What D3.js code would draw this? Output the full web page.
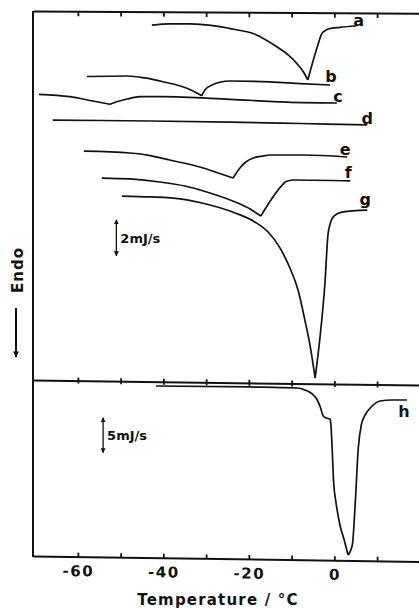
<!DOCTYPE html>
<html>
<head>
<meta charset="utf-8">
<script src="https://cdn.jsdelivr.net/npm/d3@7"></script>
<style>
    body { margin: 0; background: #fff; }
    text { font-family: "DejaVu Sans", sans-serif; fill: #111; font-weight: bold; }
    .axis path, .axis line { stroke: #111; }
</style>
</head>
<body>
<svg id="chart" width="419" height="609"></svg>
<script>

// DSC traces, [temperature in degC, heat flow in mJ/s with an arbitrary offset]
var curveA = [[-42.7, 19.72], [-38.5, 19.78], [-33.8, 19.79], [-26.8, 19.63], [-23.2, 19.47], [-19.0, 19.25],
    [-16.2, 18.92], [-13.2, 18.47], [-10.8, 18.06], [-8.7, 17.56], [-7.3, 17.14], [-6.2, 16.67],
    [-4.1, 18.43], [-2.9, 19.26], [-2.1, 19.42], [-1.4, 19.5], [1.3, 19.59], [5.2, 19.68]];
var curveB = [[-57.9, 16.86], [-48.5, 16.89], [-44.3, 16.78], [-40.1, 16.57], [-34.5, 16.21], [-32.6, 16.0],
    [-31.0, 15.79], [-30.3, 16.11], [-28.6, 16.39], [-26.8, 16.54], [-24.4, 16.61], [-15.0, 16.56],
    [-8.0, 16.47], [-1.0, 16.39]];
var curveC = [[-69.1, 15.87], [-61.9, 15.74], [-56.5, 15.5], [-52.5, 15.32], [-50.9, 15.46], [-48.5, 15.61],
    [-45.5, 15.74], [-40.1, 15.74], [-24.4, 15.59], [-11.1, 15.44], [0.6, 15.39]];
var curveD = [[-65.9, 14.44], [-43.1, 14.39], [-24.4, 14.33], [-8.0, 14.25], [7.7, 14.17]];
var curveE = [[-58.6, 12.72], [-47.8, 12.61], [-43.1, 12.47], [-38.5, 12.22], [-30.7, 11.78], [-27.2, 11.5],
    [-23.7, 11.22], [-22.1, 11.78], [-20.7, 12.11], [-19.0, 12.33], [-16.9, 12.44], [-15.0, 12.5],
    [-7.3, 12.5], [3.0, 12.39]];
var curveF = [[-54.4, 11.22], [-47.8, 11.17], [-40.8, 11.0], [-35.0, 10.78], [-29.1, 10.39], [-23.2, 9.89],
    [-19.7, 9.5], [-17.2, 9.11], [-12.2, 10.83], [-11.3, 11.03], [-9.2, 11.11], [3.7, 11.06]];
var curveG = [[-49.7, 10.22], [-43.1, 10.17], [-36.1, 10.06], [-29.1, 9.72], [-23.2, 9.28], [-18.6, 8.78],
    [-15.5, 8.22], [-12.7, 7.33], [-10.4, 6.22], [-8.5, 5.0], [-6.9, 3.33], [-5.7, 1.94], [-4.5, 0.11],
    [-3.3, 2.5], [-2.2, 5.39], [-1.5, 8.06], [-1.0, 8.67], [-0.1, 9.11], [1.8, 9.33], [7.7, 9.44]];
var curveH = [[-41.7, 24.43], [-19.7, 24.29], [-8.7, 24.14], [-6.9, 23.86], [-5.2, 23.29], [-4.0, 22.43],
    [-3.3, 21.43], [-2.6, 20.14], [-1.9, 19.86], [-1.0, 19.71], [-0.8, 18.86], [-0.5, 15.29], [-0.2, 11.0],
    [0.4, 7.71], [1.3, 4.57], [2.3, 2.43], [3.2, 0.29], [4.2, 1.71], [4.9, 7.86], [5.6, 15.57], [6.3, 18.86],
    [7.2, 20.29], [8.4, 21.29], [10.7, 22.29], [13.5, 22.43], [17.0, 22.43]];

var topCurves = [curveA, curveB, curveC, curveD, curveE, curveF, curveG];
var topNames = ["a", "b", "c", "d", "e", "f", "g"];
var tickValues = [-60, -50, -40, -30, -20, -10, 0, 10];
var labelledTicks = [-60, -40, -20, 0];

var svg = d3.select("#chart");

var x = d3.scaleLinear().domain([-70.5, 19.8]).range([33, 419]);
var yTop = d3.scaleLinear().domain([0, 2]).range([380, 344]);   // 2 mJ/s = 36px
var yBot = d3.scaleLinear().domain([0, 5]).range([557, 522]);   // 5 mJ/s = 35px

// arrow heads for the scale bars
var defs = svg.append("defs");
defs.append("marker")
    .attr("id", "head")
    .attr("viewBox", "0 0 10 10")
    .attr("refX", 9).attr("refY", 5)
    .attr("markerWidth", 5).attr("markerHeight", 5)
    .attr("markerUnits", "userSpaceOnUse")
    .attr("orient", "auto-start-reverse")
    .append("path").attr("d", "M0,0 L10,5 L0,10 z").attr("fill", "#111");
defs.append("marker")
    .attr("id", "bighead")
    .attr("viewBox", "0 0 10 10")
    .attr("refX", 9).attr("refY", 5)
    .attr("markerWidth", 7).attr("markerHeight", 6)
    .attr("markerUnits", "userSpaceOnUse")
    .attr("orient", "auto")
    .append("path").attr("d", "M0,0 L10,5 L0,10 z").attr("fill", "#111");

// the scan is a little skewed, so horizontal axes lean down to the right
function horizontalAxis(axis, y0, angle) {
    var shift = x.range()[0] * Math.tan(angle * Math.PI / 180);
    var g = svg.append("g")
        .attr("class", "axis")
        .attr("transform", "translate(0," + (y0 - shift) + ") skewY(" + angle + ")")
        .call(axis);
    g.select(".domain").attr("stroke-width", 2);
    g.selectAll(".tick line").attr("stroke-width", 1.8);
    return g;
}

horizontalAxis(d3.axisTop(x).tickValues(tickValues).tickSize(-5).tickSizeOuter(0).tickFormat(""), 11, 0.35);

horizontalAxis(d3.axisBottom(x).tickValues(tickValues).tickSize(3).tickSizeOuter(0).tickFormat(""), 380, 0.75)
    .selectAll(".tick line").attr("y1", -3).attr("y2", 3); // ticks cross the middle line

var bottom = horizontalAxis(d3.axisBottom(x).tickValues(tickValues).tickSize(-4).tickSizeOuter(0).tickPadding(9)
    .tickFormat(function (d) {
        return labelledTicks.indexOf(d) >= 0 ? (d < 0 ? "-" + Math.abs(d) : String(d)) : "";
    }), 556, 0.8);
bottom.selectAll(".tick text")
    .attr("font-size", 15)
    .attr("letter-spacing", 1.5)
    .attr("font-family", "DejaVu Sans")
    .attr("font-weight", "bold")
    .attr("fill", "#111");

// left frame line
svg.append("line")
    .attr("x1", x(-70.5)).attr("x2", x(-70.5))
    .attr("y1", 11).attr("y2", 557)
    .attr("stroke", "#111").attr("stroke-width", 2);

// each trace is smooth on both sides of its sharp minimum
function tracePath(curve, y) {
    var line = d3.line()
        .x(function (d) { return x(d[0]); })
        .y(function (d) { return y(d[1]); })
        .curve(d3.curveMonotoneX);
    var iMin = d3.minIndex(curve, function (d) { return d[1]; });
    var left = curve.slice(0, iMin + 1), right = curve.slice(iMin);
    return line(left) + (right.length > 1 ? line(right) : "");
}

svg.selectAll("path.trace")
    .data(topCurves)
    .enter().append("path")
    .attr("class", "trace")
    .attr("d", function (d) { return tracePath(d, yTop); })
    .attr("fill", "none")
    .attr("stroke", "#111")
    .attr("stroke-width", 1.7)
    .attr("stroke-linejoin", "round");

svg.append("path")
    .attr("d", tracePath(curveH, yBot))
    .attr("fill", "none")
    .attr("stroke", "#111")
    .attr("stroke-width", 1.7)
    .attr("stroke-linejoin", "round");

// curve letters sit just past the end of each trace
var labelOffsets = [[2, 0], [1, -3], [1, -1], [0, -1], [-2, -2], [-2, -3], [-2, -5]];
svg.selectAll("text.letter")
    .data(topCurves)
    .enter().append("text")
    .attr("class", "letter")
    .attr("x", function (d, i) { return x(d[d.length - 1][0]) + labelOffsets[i][0]; })
    .attr("y", function (d, i) { return yTop(d[d.length - 1][1]) + labelOffsets[i][1]; })
    .attr("text-anchor", "middle")
    .attr("font-size", 16)
    .text(function (d, i) { return topNames[i]; });

var lastH = curveH[curveH.length - 1];
svg.append("text")
    .attr("x", x(lastH[0]) - 3)
    .attr("y", yBot(lastH[1]) + 17)
    .attr("text-anchor", "middle")
    .attr("font-size", 16)
    .text("h");

// scale bars
svg.append("line")
    .attr("x1", x(-51)).attr("x2", x(-51))
    .attr("y1", yTop(6.9)).attr("y2", yTop(8.9))
    .attr("stroke", "#111").attr("stroke-width", 1.3)
    .attr("marker-start", "url(#head)").attr("marker-end", "url(#head)");
svg.append("text")
    .attr("x", x(-51) + 4).attr("y", yTop(7.9) + 5)
    .attr("font-size", 13)
    .text("2mJ/s");

svg.append("line")
    .attr("x1", x(-54.1)).attr("x2", x(-54.1))
    .attr("y1", yBot(14.9)).attr("y2", yBot(19.9))
    .attr("stroke", "#111").attr("stroke-width", 1.3)
    .attr("marker-start", "url(#head)").attr("marker-end", "url(#head)");
svg.append("text")
    .attr("x", x(-54.1) + 4).attr("y", yBot(17.4) + 5)
    .attr("font-size", 13)
    .text("5mJ/s");

// y label with the endo arrow
svg.append("text")
    .attr("transform", "translate(23,270) rotate(-90)")
    .attr("text-anchor", "middle")
    .attr("font-size", 15)
    .attr("letter-spacing", 1)
    .text("Endo");
svg.append("line")
    .attr("x1", 16).attr("x2", 16)
    .attr("y1", 308).attr("y2", 357)
    .attr("stroke", "#111").attr("stroke-width", 2)
    .attr("marker-end", "url(#bighead)");

svg.append("text")
    .attr("x", 218).attr("y", 605)
    .attr("text-anchor", "middle")
    .attr("font-size", 15)
    .attr("letter-spacing", 1.2)
    .text("Temperature / \u00b0C");

</script>
</body>
</html>
